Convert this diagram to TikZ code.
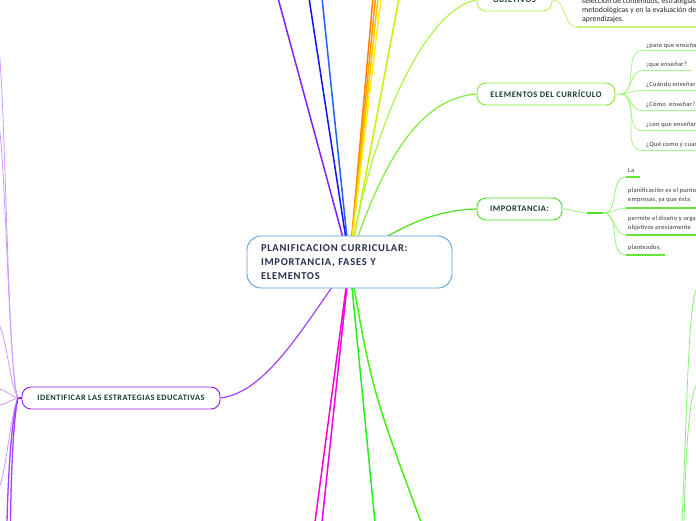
\documentclass[tikz,border=0pt]{standalone}
\usepackage{fontspec}
\setmainfont{Carlito}
\newfontfamily\spacedA[LetterSpace=7]{Carlito}
\newfontfamily\spacedB[LetterSpace=6]{Carlito}
\newfontfamily\spacedC[LetterSpace=4]{Carlito}
\usetikzlibrary{backgrounds}
\definecolor{cblue}{HTML}{5AA0DC}
\definecolor{ctext}{HTML}{26304E}
\definecolor{cdark}{HTML}{173F2F}
\definecolor{lviolet}{HTML}{8020FF}
\definecolor{ldblue}{HTML}{1010FF}
\definecolor{lmblue}{HTML}{2060FF}
\definecolor{lorangea}{HTML}{FF8000}
\definecolor{lorangeb}{HTML}{FFA000}
\definecolor{lgold}{HTML}{FFC400}
\definecolor{lyellow}{HTML}{FFF000}
\definecolor{lygreen}{HTML}{C8F000}
\definecolor{objc}{HTML}{B4F04A}
\definecolor{objline}{HTML}{C4F27A}
\definecolor{elemc}{HTML}{80EA3A}
\definecolor{elemline}{HTML}{AAF58A}
\definecolor{impc}{HTML}{4CE01A}
\definecolor{impline}{HTML}{99F080}
\definecolor{lmagenta}{HTML}{FF00CC}
\definecolor{lmagentb}{HTML}{F000F0}
\definecolor{lgreena}{HTML}{22EE22}
\definecolor{lgreenb}{HTML}{44F011}
\definecolor{idc}{HTML}{9A1AEE}
\definecolor{idline}{HTML}{A640FF}
\definecolor{lpurple}{HTML}{CC99FF}
\definecolor{rgreen}{HTML}{88F077}
\tikzset{
  branchbox/.style={draw, fill=white, rounded corners=9pt, line width=0.9pt, minimum height=22pt, inner sep=0pt, text=cdark, font=\spacedB\bfseries\fontsize{8.5}{10}\selectfont},
  itemtext/.style={inner sep=0pt, text=black!80, font=\spacedC\fontsize{6.5}{9}\selectfont},
  imptext/.style={inner sep=0pt, text=black!80, align=left, font=\spacedC\fontsize{6.4}{9.5}\selectfont},
  mainline/.style={line width=1.5pt},
  subline/.style={line width=0.8pt},
  uline/.style={line width=1.4pt},
}
\begin{document}
\begin{tikzpicture}[x=1pt,y=-1pt]
\useasboundingbox (0,0) rectangle (696,520);

% central node
\node[draw=cblue, line width=0.9pt, fill=white, rounded corners=14pt, minimum width=205pt, minimum height=52pt, text width=177pt, align=left, inner sep=0pt, text=ctext, font=\spacedA\bfseries\fontsize{10.5}{14}\selectfont] (c) at (349.5,262) {PLANIFICACION CURRICULAR:\\IMPORTANCIA, FASES Y\\ELEMENTOS};

% branch nodes
\node[branchbox, draw=objc, minimum width=75pt] (obj) at (514.5,0) {OBJETIVOS};
\node[branchbox, draw=elemc, minimum width=138pt] (elem) at (546,94) {ELEMENTOS DEL CURRÍCULO};
\node[branchbox, draw=impc, minimum width=85pt] (imp) at (519.5,209) {IMPORTANCIA:};
\node[branchbox, draw=idc, minimum width=198pt, font=\spacedB\bfseries\fontsize{8.3}{10}\selectfont] (idn) at (121,398) {IDENTIFICAR LAS ESTRATEGIAS EDUCATIVAS};

% objetivos text
\node[anchor=north west, inner sep=0pt, align=left, text=black!85, font=\fontsize{7.8}{9}\selectfont] (otext) at (582,-2.5) {selección de contenidos, estrategias\\metodológicas y en la evaluación de\\aprendizajes.};

% elementos items
\node[itemtext, anchor=base west] (e1) at (646,47) {¿para que enseñar?};
\node[itemtext, anchor=base west] (e2) at (646,66.5) {¡que enseñar?};
\node[itemtext, anchor=base west] (e3) at (646,86.5) {¿Cuándo enseñar?};
\node[itemtext, anchor=base west] (e4) at (646,106.5) {¿Cómo \ enseñar?};
\node[itemtext, anchor=base west] (e5) at (646,126.5) {¿con que enseñar?};
\node[itemtext, anchor=base west] (e6) at (646,146) {¿Qué como y cuando evaluar?};

% importancia items
\node[imptext, anchor=base west] (i1) at (628,172.5) {La};
\node[imptext, anchor=north west] (i2) at (628,187.5) {planificación es el punto de partida\\empresas, ya que ésta};
\node[imptext, anchor=north west] (i3) at (628,215.5) {permite el diseño y organización de\\objetivos previamente};
\node[imptext, anchor=base west] (i4) at (628,249.5) {planteados.};

% free-end coordinates
\coordinate (tviolet) at (278,-2);
\coordinate (tdblue) at (309,-2);
\coordinate (tmblue) at (322,-2);
\coordinate (torangea) at (373,-2);
\coordinate (torangeb) at (375.5,-2);
\coordinate (tgold) at (378,-2);
\coordinate (tyellow) at (381,-2);
\coordinate (tygreen) at (399,-2);
\coordinate (bmaga) at (315,522);
\coordinate (bmagb) at (322,522);
\coordinate (bgreena) at (375,522);
\coordinate (bgreenb) at (421,522);

\coordinate (oa) at (577,27);
\coordinate (ob) at (698,27);

\coordinate (ej) at (620,94);
\coordinate (e1a) at (642,50.7); \coordinate (e1b) at (698,50.7);
\coordinate (e2a) at (642,70.7); \coordinate (e2b) at (691,70.7);
\coordinate (e3a) at (642,90.7); \coordinate (e3b) at (698,90.7);
\coordinate (e4a) at (642,110.7); \coordinate (e4b) at (698,110.7);
\coordinate (e5a) at (642,130.7); \coordinate (e5b) at (698,130.7);
\coordinate (e6a) at (642,150.3); \coordinate (e6b) at (698,150.3);

\coordinate (ija) at (587,213);
\coordinate (ijb) at (603,213);
\coordinate (i1a) at (626,177); \coordinate (i1b) at (640,177);
\coordinate (i2a) at (626,208); \coordinate (i2b) at (698,208);
\coordinate (i3a) at (626,235); \coordinate (i3b) at (698,235);
\coordinate (i4a) at (626,255); \coordinate (i4b) at (665,255);

\coordinate (pj) at (18,398);
\coordinate (pa) at (-1,48);
\coordinate (pb) at (-1,125);
\coordinate (pc) at (-1,325);
\coordinate (pd) at (-1,389);
\coordinate (pe) at (-1,405);
\coordinate (pf) at (-1,487);
\coordinate (pg) at (7,522);
\coordinate (ph) at (10.5,522);

\coordinate (ra) at (698,287);
\coordinate (rb) at (698,384);
\coordinate (rc) at (682,522);
\coordinate (rd) at (684,522);

\begin{pgfonlayer}{background}
\fill[white] (0,0) rectangle (696,520);
% straight lines from the centre
\draw[mainline, lviolet] (c.center) -- (tviolet);
\draw[mainline, ldblue] (c.center) -- (tdblue);
\draw[mainline, lmblue] (c.center) -- (tmblue);
\draw[mainline, lorangea] (c.center) -- (torangea);
\draw[mainline, lorangeb] (c.center) -- (torangeb);
\draw[mainline, lgold] (c.center) -- (tgold);
\draw[mainline, lyellow] (c.center) -- (tyellow);
\draw[mainline, lygreen] (c.center) -- (tygreen);
\draw[mainline, lmagenta] (c.center) -- (bmaga);
\draw[mainline, lmagentb] (c.center) -- (bmagb);
\draw[mainline, lgreena] (c.center) -- (bgreena);
\draw[mainline, lgreenb] (c.center) .. controls (372,390) .. (bgreenb);

% curves to branch nodes
\draw[line width=1.2pt, objc] (c.center) .. controls (372,120) and (428,8) .. (obj.west);
\draw[line width=1.2pt, elemc] (c.center) .. controls (382,160) and (420,98) .. (elem.west);
\draw[line width=1.2pt, impc] (c.center) .. controls (402,222) and (440,210) .. (imp.west);
\draw[line width=1.2pt, idline] (c.center) .. controls (300,332) and (266,392) .. (idn.east);

% objetivos detail
\draw[subline, objline] (obj.east) to[out=0,in=180] (oa);
\draw[uline, objline] (oa) -- (ob);

% elementos items
\foreach \i in {1,...,6}{
  \draw[subline, elemline] (ej) to[out=0,in=180] (e\i a);
  \draw[uline, elemline] (e\i a) -- (e\i b);
}
\draw[subline, elemline] (elem.east) -- (ej);

% importancia items
\draw[subline, impline] (imp.east) to[out=0,in=180] (ija);
\draw[line width=1.8pt, impc] (ija) -- (ijb);
\foreach \i in {1,...,4}{
  \draw[subline, impline] (ijb) to[out=0,in=180] (i\i a);
  \draw[uline, impc!85] (i\i a) -- (i\i b);
}

% identificar left branches
\draw[line width=1.8pt, idc] (pj) -- (idn.west);
\draw[subline, lpurple] (pj) .. controls (8,380) and (6,120) .. (pa);
\draw[subline, lpurple] (pj) .. controls (9,380) and (6,170) .. (pb);
\draw[subline, lpurple] (pj) .. controls (10,385) and (6,335) .. (pc);
\draw[subline, lpurple] (pj) .. controls (10,396) and (5,389) .. (pd);
\draw[subline, lpurple] (pj) .. controls (10,400) and (5,405) .. (pe);
\draw[subline, lpurple] (pj) .. controls (10,415) and (6,475) .. (pf);
\draw[line width=1.3pt, idline] (pj) .. controls (11,420) and (8,480) .. (pg);
\draw[line width=1.3pt, idline] (pj) .. controls (13,420) and (11,480) .. (ph);

% right lower light green curves
\draw[subline, rgreen] (ra) .. controls (688,292) and (687,420) .. (rc);
\draw[subline, rgreen] (rb) .. controls (690,388) and (686,440) .. (rd);
\end{pgfonlayer}
\end{tikzpicture}
\end{document}
